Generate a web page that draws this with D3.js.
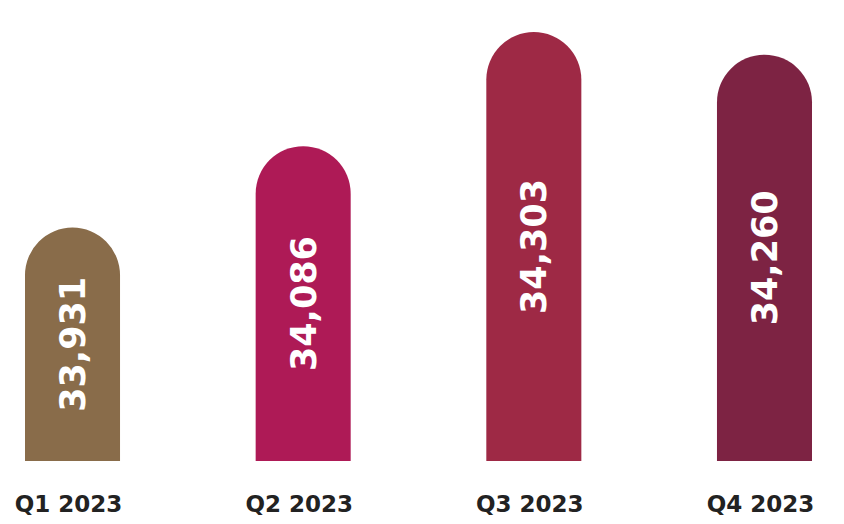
<!DOCTYPE html>
<html>
<head>
<meta charset="utf-8">
<script src="https://cdn.jsdelivr.net/npm/d3@7"></script>
<style>
  body { margin: 0; background: #fff; }
</style>
</head>
<body>
<div id="chart"></div>
<script>
// quarterly values
var quarters = ["Q1 2023", "Q2 2023", "Q3 2023", "Q4 2023"];
var totals = [33931, 34086, 34303, 34260];
var barColors = ["#896c4a", "#ae1a56", "#9e2945", "#7d2343"];

var width = 844;
var height = 524;

var svg = d3.select("#chart").append("svg")
    .attr("width", width)
    .attr("height", height);

var baseY = 461;

var xScale = d3.scaleBand()
    .domain(quarters)
    .range([25, 812])
    .paddingInner(0.588)
    .paddingOuter(0);

// axis does not start at zero in the original
var yScale = d3.scaleLinear()
    .domain([33487, 34364])
    .range([baseY, 0]);

var data = quarters.map(function (q, i) {
    return { quarter: q, value: totals[i], color: barColors[i] };
});

var bw = xScale.bandwidth();
var r = bw / 2;

function roundTop(d) {
    var x0 = xScale(d.quarter);
    var top = yScale(d.value);
    return "M" + x0 + "," + baseY +
        "V" + (top + r) +
        "A" + r + "," + r + " 0 0 1 " + (x0 + bw) + "," + (top + r) +
        "V" + baseY + "Z";
}

svg.selectAll(".bar")
    .data(data)
    .enter()
    .append("path")
    .attr("class", "bar")
    .attr("d", roundTop)
    .attr("fill", d => d.color);

// values written sideways inside each bar
svg.selectAll(".valueText")
    .data(data)
    .enter()
    .append("text")
    .attr("class", "valueText")
    .attr("transform", function (d) {
        var cx = xScale(d.quarter) + bw / 2;
        var cy = (yScale(d.value) + baseY) / 2;
        return "translate(" + cx + "," + cy + ") rotate(-90)";
    })
    .attr("text-anchor", "middle")
    .attr("dy", "0.36em")
    .attr("font-family", "DejaVu Sans, sans-serif")
    .attr("font-weight", "bold")
    .attr("font-size", "35px")
    .attr("fill", "#fff")
    .text(d => d3.format(",")(d.value));

// quarter labels under the bars
var bottomAxis = d3.axisBottom(xScale).tickSize(0).tickPadding(0);
var xAxis = svg.append("g")
    .attr("transform", "translate(-4, 496)")
    .call(bottomAxis);
xAxis.select(".domain").remove();
xAxis.selectAll("text")
    .attr("font-family", "DejaVu Sans, sans-serif")
    .attr("font-weight", "bold")
    .attr("font-size", "23px")
    .attr("fill", "#222");
</script>
</body>
</html>
